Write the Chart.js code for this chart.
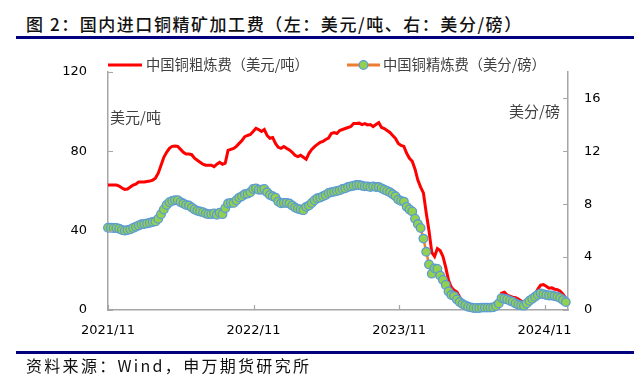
<!DOCTYPE html>
<html>
<head>
<meta charset="utf-8">
<script src="https://cdn.jsdelivr.net/npm/chart.js@4.4.1/dist/chart.umd.min.js"></script>
<style>
  html, body { margin: 0; padding: 0; background: #fff; }
  #wrap { position: relative; width: 634px; height: 386px; overflow: hidden; }
  #title { position: absolute; left: 26px; top: 15px; font: 500 17px/17px "Noto Sans CJK SC"; letter-spacing: 1.55px; color: #111; white-space: nowrap; }
  #src { position: absolute; left: 26px; top: 357px; font: 400 16px/16px "Noto Sans CJK SC"; letter-spacing: 2.3px; color: #111; white-space: nowrap; }
  .rule { position: absolute; left: 16px; width: 618px; height: 3px; background: #00007F; }
  #cv { position: absolute; left: 0; top: 0; }
</style>
</head>
<body>
<div id="wrap">
  <div id="title">图 2：国内进口铜精矿加工费（左：美元/吨、右：美分/磅）</div>
  <div class="rule" style="top:36px"></div>
  <canvas id="cv" width="634" height="386"></canvas>
  <div class="rule" style="top:351px"></div>
  <div id="src">资料来源：Wind，申万期货研究所</div>
</div>
<script>
// Weekly observations, first week of Nov 2021 onwards
const seriesNames = ['中国铜粗炼费（美元/吨）', '中国铜精炼费（美分/磅）'];
const tickLabels = ['2021/11', '2022/11', '2023/11', '2024/11'];
const tickWeeks = [0, 52.14, 104.3, 156.4];

// 中国铜粗炼费 (USD/t), left axis
const roughTC = [
  63, 63, 63, 63, 62.5, 61.5, 60.8, 61, 62, 63,
  63.5, 64.5, 64.5, 64.5, 64.8, 65, 65.5, 66.5, 69, 73,
  77, 79.5, 81.5, 82.5, 82.7, 82.5, 81, 79.5, 78.6, 78.6,
  78.3, 76.5, 75.5, 74.5, 73.5, 73, 73, 73, 72.3, 73.5,
  74.5, 73.5, 74, 80.5, 81, 81.5, 82.5, 84, 85.5, 87.4,
  88, 88.5, 90, 91.6, 91, 90, 91, 88, 86.6, 87,
  84, 82, 81.5, 82.4, 81.5, 80.7, 79.5, 78, 77.3, 78,
  77, 76, 79, 81, 82.4, 83.5, 84.5, 85, 86, 86.7,
  89, 89.5, 89, 90.5, 91, 91.5, 92, 92.5, 94, 94,
  94.2, 93.5, 94, 93.3, 93.5, 92.5, 93.5, 94.5, 92, 91.5,
  90.5, 89.5, 88, 86.5, 84, 83, 82.5, 79, 76.5, 75,
  71, 65.5, 62, 59, 49, 40, 29, 27, 31, 30,
  27, 21.5, 15, 11.5, 10, 9, 6.5, 4, 2, 1.5,
  1, 0.8, 0.6, 0.5, 0.5, 0.5, 0.5, 0.6, 0.8, 1.5,
  3, 8.5, 9, 7.5, 7, 6.5, 6.2, 5.5, 4.5, 3.5,
  3, 4.5, 5.5, 8, 10.5, 12.5, 12.8, 12, 11, 11.2,
  10.5, 10.3, 9.5, 8, 6
];

// 中国铜精炼费 (US cents/lb), right axis
const refineTC = [
  6.22, 6.22, 6.2, 6.2, 6.15, 6.05, 6.0, 6.05, 6.1, 6.2,
  6.3, 6.4, 6.48, 6.5, 6.55, 6.6, 6.65, 6.7, 6.9, 7.25,
  7.6, 7.95, 8.15, 8.25, 8.3, 8.3, 8.15, 8.05, 7.95, 7.9,
  7.75, 7.6, 7.5, 7.45, 7.4, 7.3, 7.25, 7.25, 7.3, 7.2,
  7.35, 7.25, 7.7, 8.05, 8.1, 8.1, 8.3, 8.5, 8.6, 8.75,
  8.8, 8.9, 9.15, 9.2, 9.1, 9.1, 9.15, 8.9, 8.7, 8.6,
  8.5, 8.2, 8.07, 8.1, 8.1, 8.05, 7.9, 7.75, 7.65, 7.6,
  7.55, 7.8, 7.9, 8.1, 8.3, 8.45, 8.5, 8.6, 8.7, 8.85,
  8.9, 8.95, 9.0, 9.05, 9.15, 9.2, 9.3, 9.35, 9.4, 9.45,
  9.45, 9.4, 9.35, 9.35, 9.3, 9.35, 9.3, 9.3, 9.2, 9.1,
  9.0, 8.9, 8.75, 8.6, 8.35, 8.25, 8.2, 7.8, 7.6, 7.45,
  6.9, 6.5, 6.2, 5.4, 4.4, 3.45, 2.75, 3.15, 3.1, 2.6,
  2.27, 1.9, 1.4, 1.13, 1.05, 0.8, 0.6, 0.45, 0.35, 0.25,
  0.2, 0.15, 0.15, 0.15, 0.18, 0.18, 0.18, 0.18, 0.2, 0.3,
  0.5, 0.9, 0.85, 0.8, 0.7, 0.63, 0.5, 0.4, 0.35, 0.33,
  0.5, 0.7, 0.85, 1.0, 1.15, 1.26, 1.2, 1.13, 1.1, 1.1,
  1.05, 1.0, 0.9, 0.75, 0.6
];

const leftTicks = [0, 40, 80, 120];
const rightTicks = [0, 4, 8, 12, 16];
const unitLeft = '美元/吨';
const unitRight = '美分/磅';

const RED = '#FF0000', ORANGE = '#ED7D31', GREEN = '#92D050', BLUE = '#5B9BD5', AXIS = '#A6A6A6';
const CJK = '"Noto Sans CJK SC", sans-serif';

const decor = {
  id: 'decor',
  afterDraw(chart) {
    const ctx = chart.ctx, a = chart.chartArea;
    const sx = chart.scales.x, sl = chart.scales.y, sr = chart.scales.y1;
    ctx.save();
    // inside tick marks
    ctx.strokeStyle = AXIS; ctx.lineWidth = 1.2;
    ctx.beginPath();
    sl.ticks.forEach(t => { const y = Math.round(sl.getPixelForValue(t.value)) + 0.5; ctx.moveTo(a.left, y); ctx.lineTo(a.left + 5, y); });
    sr.ticks.forEach(t => { const y = Math.round(sr.getPixelForValue(t.value)) + 0.5; ctx.moveTo(a.right - 5, y); ctx.lineTo(a.right, y); });
    sx.ticks.forEach(t => { const x = Math.round(sx.getPixelForValue(t.value)) + 0.5; ctx.moveTo(x, a.bottom); ctx.lineTo(x, a.bottom - 5); });
    ctx.stroke();
    // unit labels
    ctx.fillStyle = '#404040';
    ctx.font = '15px ' + CJK;
    ctx.textBaseline = 'middle';
    ctx.textAlign = 'left';
    ctx.fillText(unitLeft, a.left + 2, 117);
    ctx.textAlign = 'right';
    ctx.fillText(unitRight, a.right - 8, 111);
    // legend
    const ly = 65;
    ctx.lineWidth = 3; ctx.lineCap = 'butt';
    ctx.strokeStyle = RED;
    ctx.beginPath(); ctx.moveTo(108, ly); ctx.lineTo(142, ly); ctx.stroke();
    ctx.strokeStyle = ORANGE;
    ctx.beginPath(); ctx.moveTo(347, ly); ctx.lineTo(380, ly); ctx.stroke();
    ctx.beginPath(); ctx.arc(363.5, ly, 4.3, 0, Math.PI * 2);
    ctx.fillStyle = GREEN; ctx.fill();
    ctx.lineWidth = 1.3; ctx.strokeStyle = BLUE; ctx.stroke();
    ctx.fillStyle = '#404040';
    ctx.font = '14.3px ' + CJK;
    ctx.textAlign = 'left';
    ctx.fillText(seriesNames[0], 146, ly);
    ctx.fillText(seriesNames[1], 383, ly);
    ctx.restore();
  }
};

new Chart(document.getElementById('cv'), {
  type: 'line',
  data: {
    datasets: [
      {
        label: seriesNames[0],
        data: roughTC.map((v, i) => ({ x: i, y: v })),
        yAxisID: 'y',
        borderColor: RED,
        borderWidth: 3,
        pointRadius: 0,
        tension: 0,
        order: 1,
        clip: false
      },
      {
        label: seriesNames[1],
        data: refineTC.map((v, i) => ({ x: i, y: v })),
        yAxisID: 'y1',
        borderColor: ORANGE,
        borderWidth: 2.5,
        pointRadius: 4.3,
        pointBackgroundColor: GREEN,
        pointBorderColor: BLUE,
        pointBorderWidth: 1.3,
        tension: 0,
        order: 0,
        clip: false
      }
    ]
  },
  options: {
    responsive: false,
    animation: false,
    events: [],
    layout: { padding: { top: 72, left: 0, right: 0, bottom: 0 } },
    plugins: { legend: { display: false }, tooltip: { enabled: false } },
    scales: {
      x: {
        type: 'linear',
        min: 0,
        max: 164.8,
        grid: { display: false, drawTicks: false },
        border: { display: true, color: AXIS, width: 1.5 },
        afterBuildTicks: s => { s.ticks = tickWeeks.map(v => ({ value: v })); },
        afterFit: s => { s.height = 76; },
        ticks: {
          autoSkip: false,
          maxRotation: 0,
          padding: 13,
          color: '#000',
          font: { family: 'DejaVu Sans', size: 13 },
          callback: (v) => { const k = tickWeeks.indexOf(v); return k >= 0 ? tickLabels[k] : ''; }
        }
      },
      y: {
        position: 'left',
        min: 0, max: 120,
        grid: { display: false, drawTicks: false },
        border: { display: true, color: AXIS, width: 1.5 },
        afterBuildTicks: s => { s.ticks = leftTicks.map(v => ({ value: v })); },
        afterFit: s => { s.width = 108; },
        ticks: { padding: 21, color: '#000', font: { family: 'DejaVu Sans', size: 13 } }
      },
      y1: {
        position: 'right',
        min: 0, max: 18,
        grid: { display: false, drawTicks: false },
        border: { display: true, color: AXIS, width: 1.5 },
        afterBuildTicks: s => { s.ticks = rightTicks.map(v => ({ value: v })); },
        afterFit: s => { s.width = 66; },
        ticks: { padding: 16, color: '#000', font: { family: 'DejaVu Sans', size: 13 } }
      }
    }
  },
  plugins: [decor]
});
</script>
</body>
</html>
